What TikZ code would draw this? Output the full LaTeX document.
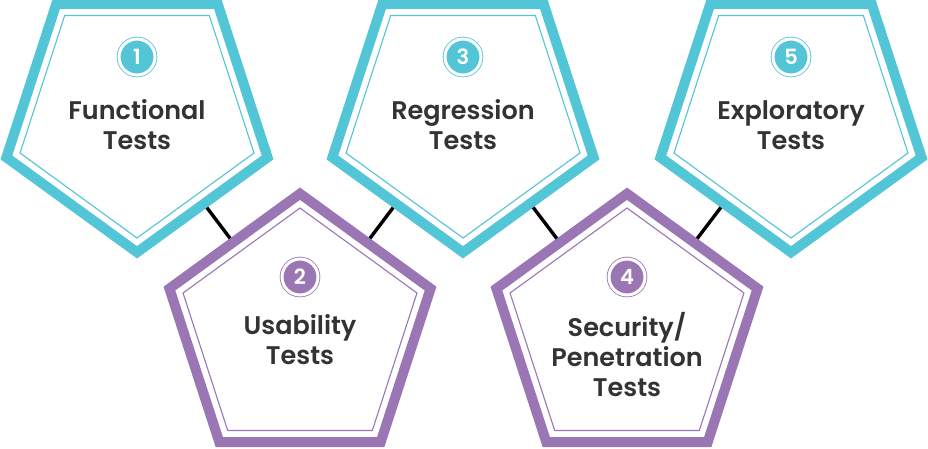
\documentclass[tikz,border=0pt]{standalone}
\usepackage{fontspec}
\setmainfont{Poppins}[BoldFont={* SemiBold}]
\usetikzlibrary{shapes.geometric}

\definecolor{tealc}{RGB}{82,197,214}
\definecolor{purplec}{RGB}{155,118,180}
\definecolor{inkc}{RGB}{51,51,51}

\tikzset{
  pent/.style={regular polygon, regular polygon sides=5, minimum size=274.6pt,
    inner sep=0pt, line width=10pt, draw=#1, fill=white},
  pentin/.style={regular polygon, regular polygon sides=5, minimum size=246pt,
    inner sep=0pt, line width=1.1pt, draw=#1},
  numdot/.style={circle, fill=#1, draw=#1, double=white, double distance=3pt,
    line width=.8pt, minimum size=36pt, inner sep=0pt, text=white,
    font=\bfseries\fontsize{21}{21}\selectfont},
  ttext/.style={align=center, text=inkc, font=\bfseries\fontsize{25.5}{30}\selectfont},
  link/.style={line width=3.4pt, black}
}

\begin{document}
\begin{tikzpicture}[x=1pt,y=-1pt]
  \useasboundingbox (0,0) rectangle (928,448);

  % Top row, point down (teal).
  \node[pent=tealc, shape border rotate=180] (p1) at (137,115) {};
  \node[pentin=tealc, shape border rotate=180] (p1in) at (137,115) {};
  \node[pent=tealc, shape border rotate=180] (p3) at (463,115) {};
  \node[pentin=tealc, shape border rotate=180] (p3in) at (463,115) {};
  \node[pent=tealc, shape border rotate=180] (p5) at (791,115) {};
  \node[pentin=tealc, shape border rotate=180] (p5in) at (791,115) {};

  % Bottom row, point up (purple).
  \node[pent=purplec] (p2) at (300,331) {};
  \node[pentin=purplec] (p2in) at (300,331) {};
  \node[pent=purplec] (p4) at (627,331) {};
  \node[pentin=purplec] (p4in) at (627,331) {};

  % Links between neighbours.
  \draw[link] (p1) -- (p2);
  \draw[link] (p2) -- (p3);
  \draw[link] (p3) -- (p4);
  \draw[link] (p4) -- (p5);

  % Numbers.
  \node[numdot=tealc] (n1) at (137,57) {1};
  \node[numdot=purplec] (n2) at (300,277) {2};
  \node[numdot=tealc] (n3) at (463,57) {3};
  \node[numdot=purplec] (n4) at (627,277) {4};
  \node[numdot=tealc] (n5) at (791,57) {5};

  % Titles.
  \node[ttext] (t1) at (137,125) {Functional\\Tests};
  \node[ttext] (t2) at (300,340) {Usability\\Tests};
  \node[ttext] (t3) at (463,125) {Regression\\Tests};
  \node[ttext] (t4) at (627,355) {Security/\\Penetration\\Tests};
  \node[ttext] (t5) at (791,125) {Exploratory\\Tests};
\end{tikzpicture}
\end{document}
